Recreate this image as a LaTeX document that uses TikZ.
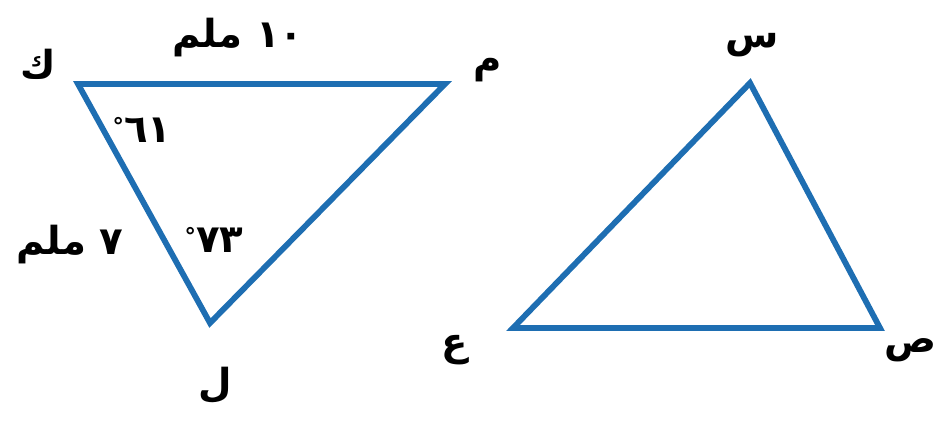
\documentclass[tikz,border=0pt]{standalone}
\usepackage{fontspec}
\newfontfamily\arabicfont[Script=Arabic]{DejaVu Sans}
\TeXXeTstate=1
\definecolor{triblue}{RGB}{30,110,178}
\newcommand{\degmark}{\raisebox{5pt}{\fontsize{13}{13}\selectfont °}}

\begin{document}
\begin{tikzpicture}[x=0.02cm,y=-0.02cm,
  font=\arabicfont\bfseries\fontsize{22}{26}\selectfont,
  side/.style={draw=triblue,line width=3.3pt,line join=miter},
  lbl/.style={inner sep=1pt}]
\useasboundingbox (0,0) rectangle (949,428);
% corners of the two triangles
\coordinate (k) at (78,84);
\coordinate (m) at (445,84);
\coordinate (l) at (210,323);
\coordinate (s) at (750,83);
\coordinate (ain) at (513,328);
\coordinate (sad) at (880,328);
\draw[side] (k) -- (m) -- (l) -- cycle;
\draw[side] (s) -- (sad) -- (ain) -- cycle;
% corner letters
\node[lbl] (kname) at (38,64) {\beginR ك\endR};
\node[lbl] (mname) at (488,70) {\beginR م\endR};
\node[lbl] (lname) at (215,385) {\beginR ل\endR};
\node[lbl] (sname) at (752,45) {\beginR س\endR};
\node[lbl] (ainname) at (455,350) {\beginR ع\endR};
\node[lbl] (sadname) at (910,350) {\beginR ص\endR};
% sides and angles
\node[lbl] (top) at (238,38) {\beginR\beginL ١٠\endL{} ملم\endR};
\node[lbl] (left) at (70,245) {\beginR\beginL ٧\endL{} ملم\endR};
\node[lbl] (angk) at (142,130) {\degmark٦١};
\node[lbl] (angl) at (214,240) {\degmark٧٣};
\end{tikzpicture}
\end{document}
